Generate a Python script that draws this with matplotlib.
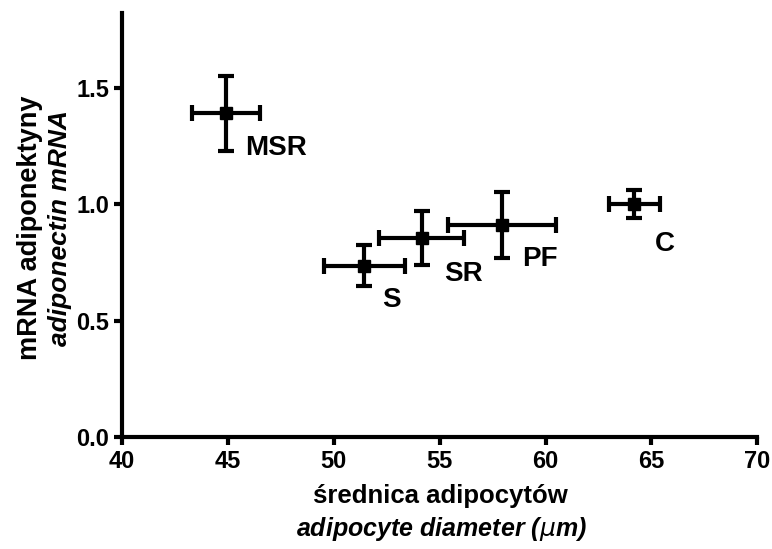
import matplotlib
matplotlib.use("Agg")
import matplotlib.pyplot as plt
from matplotlib.ticker import FormatStrFormatter

# group means and SEM
groups = ["MSR", "S", "SR", "PF", "C"]
diameter = [44.9, 51.45, 54.15, 57.95, 64.2]
diameter_err = [1.6, 1.9, 2.0, 2.55, 1.2]
adipo_mrna = [1.39, 0.735, 0.855, 0.91, 1.0]
adipo_err = [0.16, 0.088, 0.117, 0.14, 0.06]

# where each group label sits (data coords)
label_x = [45.8, 52.3, 55.2, 58.9, 65.15]
label_y = [1.24, 0.59, 0.70, 0.763, 0.83]

plt.rcParams["font.family"] = ["Liberation Sans", "DejaVu Sans"]

fig = plt.figure(figsize=(7.72, 5.49), dpi=100)
ax = fig.add_axes([0.158, 0.204, 0.823, 0.772])

ax.errorbar(diameter, adipo_mrna, xerr=diameter_err, yerr=adipo_err,
            fmt="s", color="black", ms=8, lw=3, capsize=6, capthick=3,
            elinewidth=3, clip_on=False)

for name, lx, ly in zip(groups, label_x, label_y):
    ax.text(lx, ly, name, fontsize=20, fontweight="bold", va="center", ha="left")

ax.set_xlim(40, 70)
ax.set_ylim(0, 1.82)
ax.set_xticks([40, 45, 50, 55, 60, 65, 70])
ax.set_yticks([0.0, 0.5, 1.0, 1.5])
ax.yaxis.set_major_formatter(FormatStrFormatter("%.1f"))

for s in ("top", "right"):
    ax.spines[s].set_visible(False)
for s in ("left", "bottom"):
    ax.spines[s].set_linewidth(3)
ax.tick_params(width=3, length=6, labelsize=17, pad=3)
for lab in ax.get_xticklabels() + ax.get_yticklabels():
    lab.set_fontweight("bold")

# two-line axis titles: Polish (bold) + English (bold italic)
fig.text(440 / 772, 1 - 503 / 549, "średnica adipocytów", ha="center", va="baseline",
         fontsize=18.5, fontweight="bold")
fig.text(441 / 772, 1 - 536 / 549, "adipocyte diameter ($\\mu$m)", ha="center", va="baseline",
         fontsize=18, fontweight="bold", style="italic")
fig.text(30 / 772, 1 - 228 / 549, "mRNA adiponektyny", ha="center", va="center",
         rotation=90, fontsize=19.5, fontweight="bold")
fig.text(60 / 772, 1 - 228 / 549, "adiponectin mRNA", ha="center", va="center",
         rotation=90, fontsize=19, fontweight="bold", style="italic")

fig.savefig("out.png", dpi=100)
